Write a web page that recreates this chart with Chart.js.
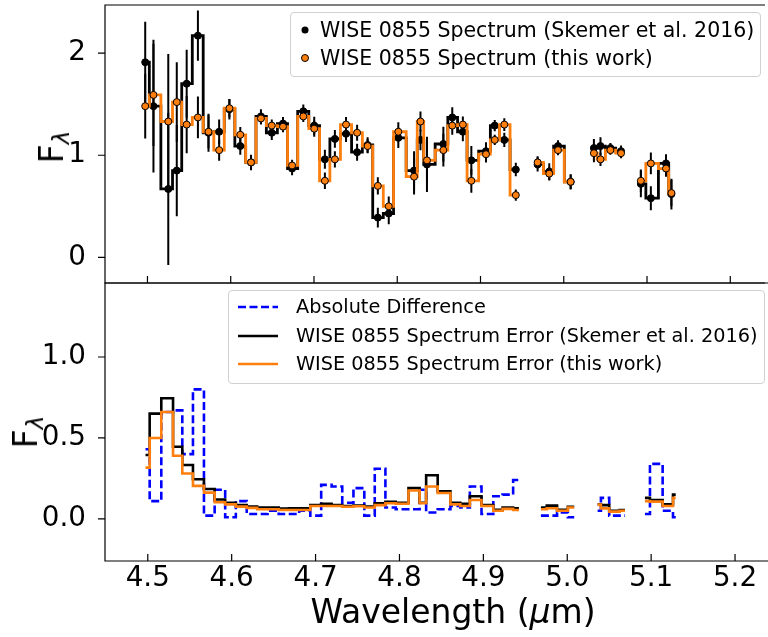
<!DOCTYPE html>
<html>
<head>
<meta charset="utf-8">
<script src="https://cdn.jsdelivr.net/npm/chart.js@4.4.0/dist/chart.umd.min.js"></script>
<style>
  body { margin: 0; background: #fff; }
  #wrap { position: relative; width: 768px; height: 637px; font-family: 'DejaVu Sans', sans-serif; color: #000; overflow: hidden; }
  canvas { position: absolute; left: 0; }
  .ylab { position: absolute; font-size: 33px; transform: translate(-50%, -50%) rotate(-90deg); white-space: nowrap; }
  .ylab sub { font-size: 23px; font-style: italic; vertical-align: -6px; }
  .xlab { position: absolute; font-size: 33px; transform: translate(-50%, -50%); white-space: nowrap; }
  .legend { position: absolute; border: 1px solid #d0d0d0; border-radius: 4px; background: rgba(255,255,255,0.8); }
  .row { position: absolute; transform: translateY(-50%); white-space: nowrap; font-size: 20.5px; line-height: 26px; }
  .row.small { font-size: 19.3px; }
  .sym { position: absolute; }
</style>
</head>
<body>
<div id="wrap">
  <canvas id="top" width="768" height="290" style="top:0"></canvas>
  <canvas id="bottom" width="768" height="359" style="top:278px"></canvas>

  <div class="ylab" style="left:53px; top:147px">F<sub>λ</sub></div>
  <div class="ylab" style="left:27px; top:432px">F<sub>λ</sub></div>
  <div class="xlab" style="left:453px; top:611px">Wavelength (<i>μ</i>m)</div>

  <div class="legend" style="left:290px; top:12px; width:469px; height:63px"></div>
  <svg class="sym" style="left:297px; top:22px" width="16" height="16"><circle cx="8" cy="8" r="3.5" fill="#000"/></svg>
  <div class="row" style="left:320px; top:30px">WISE 0855 Spectrum (Skemer et al. 2016)</div>
  <svg class="sym" style="left:297px; top:50px" width="16" height="16"><circle cx="8" cy="8" r="3.5" fill="#ff7f0e" stroke="#000" stroke-width="1"/></svg>
  <div class="row" style="left:320px; top:58px">WISE 0855 Spectrum (this work)</div>

  <div class="legend" style="left:228px; top:290px; width:535px; height:92px"></div>
  <svg class="sym" style="left:236px; top:299px" width="44" height="16"><line x1="2" y1="8" x2="42" y2="8" stroke="#0000ff" stroke-width="2.6" stroke-dasharray="8 3.5"/></svg>
  <div class="row small" style="left:296px; top:307px">Absolute Difference</div>
  <svg class="sym" style="left:236px; top:328px" width="44" height="16"><line x1="2" y1="8" x2="42" y2="8" stroke="#000" stroke-width="2.6"/></svg>
  <div class="row small" style="left:296px; top:336px">WISE 0855 Spectrum Error (Skemer et al. 2016)</div>
  <svg class="sym" style="left:236px; top:356px" width="44" height="16"><line x1="2" y1="8" x2="42" y2="8" stroke="#ff7f0e" stroke-width="2.6"/></svg>
  <div class="row small" style="left:296px; top:364px">WISE 0855 Spectrum Error (this work)</div>
</div>

<script>
// wavelengths in micron; null marks a gap between segments
const wavelength = [4.4973, 4.5072, 4.5250, 4.5352, 4.5471, 4.5606, 4.5733, 4.5861, 4.5984, 4.6115,
  4.6244, 4.6363, 4.6493, 4.6628, 4.6737, 4.6872, 4.7003, 4.7131, 4.7251, 4.7385,
  4.7518, 4.7644, 4.7767, 4.7898, 4.8013, 4.8202, 4.8279, 4.8357, 4.8554, 4.8661,
  4.8788, 4.8890, 4.9066, 4.9171, 4.9286, 4.9424, null,
  4.9686, 4.9826, 4.9931, 5.0083, null,
  5.0362, 5.0441, 5.0560, 5.0688, null,
  5.0926, 5.1046, 5.1228, 5.1293];

const fluxSkemer = [1.91, 1.48, 0.67, 0.85, 1.70, 2.17, 1.22, 1.23, 1.45, 1.09,
  0.93, 1.38, 1.22, 1.31, 0.87, 1.43, 1.29, 0.96, 1.16, 1.21,
  1.03, 1.10, 0.39, 0.43, 1.17, 0.85, 1.15, 0.91, 1.11, 1.37,
  1.23, 0.95, 1.04, 1.29, 1.15, 0.86, null,
  0.91, 0.84, 1.09, 0.74, null,
  1.07, 1.09, 1.07, 1.04, null,
  0.72, 0.58, 0.92, 0.62];

const fluxThisWork = [1.48, 1.59, 1.33, 1.52, 1.30, 1.37, 1.23, 1.05, 1.46, 1.20,
  0.93, 1.36, 1.29, 1.28, 0.90, 1.38, 1.26, 0.75, 0.96, 1.30,
  1.22, 1.09, 0.70, 0.50, 1.23, 0.79, 1.33, 0.95, 1.05, 1.29,
  1.30, 0.75, 1.01, 1.15, 1.30, 0.61, null,
  0.93, 0.82, 1.05, 0.74, null,
  1.02, 0.96, 1.05, 1.02, null,
  0.75, 0.92, 0.87, 0.63];

const errSkemer = [0.395, 0.65, 0.745, 0.446, 0.333, 0.245, 0.185, 0.12, 0.10, 0.086,
  0.076, 0.07, 0.07, 0.064, 0.066, 0.066, 0.086, 0.093, 0.086, 0.08,
  0.083, 0.076, 0.097, 0.105, 0.10, 0.19, 0.10, 0.27, 0.17, 0.10,
  0.093, 0.14, 0.086, 0.056, 0.07, 0.066, null,
  0.07, 0.082, 0.056, 0.075, null,
  0.09, 0.085, 0.05, 0.055, null,
  0.13, 0.117, 0.09, 0.15];

const errThisWork = [0.317, 0.50, 0.66, 0.39, 0.28, 0.204, 0.162, 0.103, 0.09, 0.076,
  0.068, 0.06, 0.06, 0.055, 0.055, 0.055, 0.08, 0.08, 0.08, 0.075,
  0.078, 0.07, 0.085, 0.097, 0.094, 0.175, 0.097, 0.20, 0.16, 0.09,
  0.08, 0.117, 0.08, 0.05, 0.062, 0.055, null,
  0.06, 0.066, 0.05, 0.07, null,
  0.088, 0.065, 0.045, 0.05, null,
  0.11, 0.107, 0.08, 0.13];

const absDiff = [0.43, 0.11, 0.66, 0.67, 0.40, 0.80, 0.02, 0.18, 0.01, 0.11,
  0.03, 0.03, 0.05, 0.03, 0.03, 0.05, 0.02, 0.21, 0.20, 0.10,
  0.19, 0.02, 0.31, 0.07, 0.06, 0.06, 0.18, 0.04, 0.06, 0.08,
  0.07, 0.20, 0.03, 0.14, 0.15, 0.24, null,
  0.02, 0.02, 0.04, 0.01, null,
  0.05, 0.13, 0.02, 0.02, null,
  0.03, 0.34, 0.05, 0.01];

const xTicks = [4.5, 4.6, 4.7, 4.8, 4.9, 5.0, 5.1, 5.2];
const yTicksTop = [0, 1, 2];
const yTicksBottom = [0.0, 0.5, 1.0];

const ORANGE = '#ff7f0e';
const BLUE = '#0000ff';
const tickFont = { family: 'DejaVu Sans', size: 27.8 };

function pts(ys) {
    return wavelength.map((x, i) => ({ x: x, y: x === null ? null : ys[i] }));
}

// vertical error bars, drawn just under the markers of a dataset
const errorBars = {
    id: 'errorBars',
    beforeDatasetDraw(chart, args) {
        const ds = chart.data.datasets[args.index];
        if (!ds.errors) return;
        const { ctx, chartArea: a, scales: { y } } = chart;
        ctx.save();
        ctx.beginPath();
        ctx.rect(a.left, a.top, a.right - a.left, a.bottom - a.top);
        ctx.clip();
        ctx.strokeStyle = '#000';
        ctx.lineWidth = 2;
        ctx.beginPath();
        args.meta.data.forEach((p, i) => {
            const v = ds.data[i].y, e = ds.errors[i];
            if (v === null || e === null) return;
            ctx.moveTo(p.x, y.getPixelForValue(v - e));
            ctx.lineTo(p.x, y.getPixelForValue(v + e));
        });
        ctx.stroke();
        ctx.restore();
    }
};

// spines (the right one falls outside the picture), x ticks in, y ticks out
const frame = {
    id: 'frame',
    afterDraw(chart) {
        const { ctx, chartArea: a, scales: { x, y } } = chart;
        ctx.save();
        ctx.strokeStyle = '#000';
        ctx.lineWidth = 1.2;
        ctx.beginPath();
        ctx.moveTo(a.right + 2, a.top);
        ctx.lineTo(a.left, a.top);
        ctx.lineTo(a.left, a.bottom);
        ctx.lineTo(a.right + 2, a.bottom);
        x.ticks.forEach(t => {
            const px = x.getPixelForValue(t.value);
            ctx.moveTo(px, a.bottom);
            ctx.lineTo(px, a.bottom - 7);
        });
        y.ticks.forEach(t => {
            const py = y.getPixelForValue(t.value);
            ctx.moveTo(a.left, py);
            ctx.lineTo(a.left - 7, py);
        });
        ctx.stroke();
        ctx.restore();
    }
};

function noPad(s) {
    s.paddingTop = 0; s.paddingBottom = 0; s.paddingLeft = 0; s.paddingRight = 0;
}

const xScale = (showLabels, height) => ({
    type: 'linear',
    min: 4.449,
    max: 5.2393,
    afterBuildTicks: s => { s.ticks = xTicks.map(v => ({ value: v })); },
    afterFit: s => { s.height = height; noPad(s); },
    ticks: { display: showLabels, font: tickFont, color: '#000', padding: 1, maxRotation: 0, callback: v => v.toFixed(1) },
    grid: { display: false, drawTicks: false },
    border: { display: false }
});

const yScale = (min, max, ticks, fmt) => ({
    min: min,
    max: max,
    afterBuildTicks: s => { s.ticks = ticks.map(v => ({ value: v })); },
    afterFit: s => { s.width = 105; noPad(s); },
    ticks: { font: tickFont, color: '#000', padding: 19, callback: fmt },
    grid: { display: false, drawTicks: false },
    border: { display: false }
});

// Spectre
new Chart(document.getElementById('top'), {
    type: 'line',
    data: {
        datasets: [
            { label: 'WISE 0855 Spectrum (Skemer et al. 2016)', data: pts(fluxSkemer), errors: errSkemer,
              showLine: false, pointRadius: 3.5, pointBackgroundColor: '#000', pointBorderColor: '#000', order: 2 },
            { label: 'Skemer steps', data: pts(fluxSkemer), borderColor: '#000', borderWidth: 2.8,
              pointRadius: 0, stepped: 'middle', order: 3 },
            { label: 'WISE 0855 Spectrum (this work)', data: pts(fluxThisWork), errors: errThisWork,
              showLine: false, pointRadius: 3.5, pointBackgroundColor: ORANGE, pointBorderColor: '#000',
              pointBorderWidth: 1, order: 0 },
            { label: 'this work steps', data: pts(fluxThisWork), borderColor: ORANGE, borderWidth: 2.8,
              pointRadius: 0, stepped: 'middle', order: 1 }
        ]
    },
    options: {
        responsive: false,
        animation: false,
        layout: { padding: { top: 5, right: 0, left: 0, bottom: 0 } },
        plugins: { legend: { display: false }, tooltip: { enabled: false } },
        scales: {
            x: xScale(false, 7),
            y: yScale(-0.25, 2.47, yTicksTop, v => String(v))
        }
    },
    plugins: [errorBars, frame]
});

// Erreurs
new Chart(document.getElementById('bottom'), {
    type: 'line',
    data: {
        datasets: [
            { label: 'Absolute Difference', data: pts(absDiff), borderColor: BLUE, borderWidth: 2.6,
              borderDash: [8, 3.5], pointRadius: 0, stepped: 'middle', order: 2 },
            { label: 'WISE 0855 Spectrum Error (Skemer et al. 2016)', data: pts(errSkemer), borderColor: '#000',
              borderWidth: 2.6, pointRadius: 0, stepped: 'middle', order: 1 },
            { label: 'WISE 0855 Spectrum Error (this work)', data: pts(errThisWork), borderColor: ORANGE,
              borderWidth: 2.6, pointRadius: 0, stepped: 'middle', order: 0 }
        ]
    },
    options: {
        responsive: false,
        animation: false,
        layout: { padding: { top: 5, right: 0, left: 0, bottom: 0 } },
        plugins: { legend: { display: false }, tooltip: { enabled: false } },
        scales: {
            x: xScale(true, 76),
            y: yScale(-0.26, 1.457, yTicksBottom, v => v.toFixed(1))
        }
    },
    plugins: [frame]
});
</script>
</body>
</html>
